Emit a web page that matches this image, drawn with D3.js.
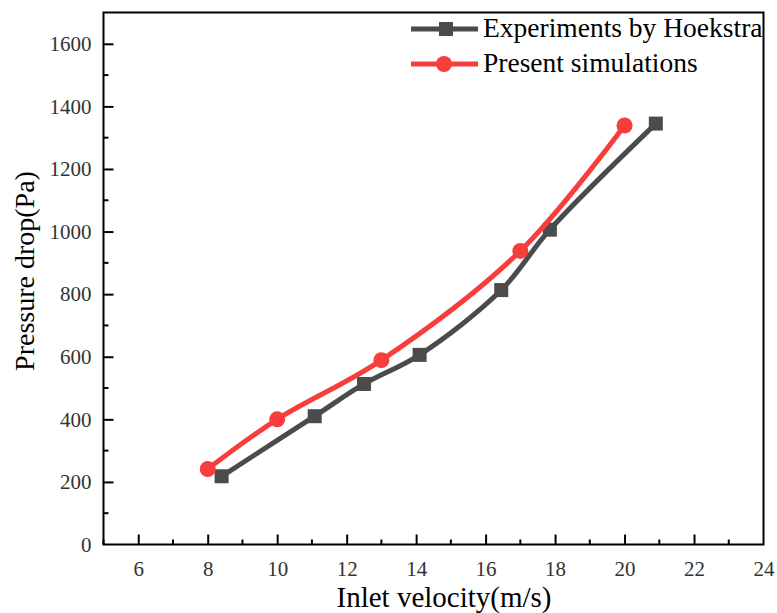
<!DOCTYPE html>
<html>
<head>
<meta charset="utf-8">
<script src="https://cdn.jsdelivr.net/npm/d3@7"></script>
<style>
  html, body { margin: 0; padding: 0; background: #fff; }
</style>
</head>
<body>
<svg id="chart" width="777" height="613"></svg>
<script>
// Inlet velocity (m/s) vs. pressure drop (Pa)
const expVelocity = [8.4, 11.08, 12.5, 14.1, 16.45, 17.85, 20.9];
const expPressure = [218, 410, 513, 606, 813, 1006, 1345];
const simVelocity = [8.0, 10.0, 13.0, 17.0, 20.0];
const simPressure = [241, 400, 589, 938, 1339];
const xTicks = [6, 8, 10, 12, 14, 16, 18, 20, 22, 24];
const yTicks = [0, 200, 400, 600, 800, 1000, 1200, 1400, 1600];
const seriesNames = ["Experiments by Hoekstra", "Present simulations"];

const svg = d3.select("#chart");
const plotLeft = 103.5, plotRight = 763.5, plotTop = 12.5, plotBottom = 544.5;

const x = d3.scaleLinear().domain([5, 24]).range([plotLeft, plotRight]);
const y = d3.scaleLinear().domain([0, 1700]).range([plotBottom, plotTop]);

const axisColor = "#000";
const labelColor = "#333";
const serif = "'Liberation Serif', 'Times New Roman', serif";

// frame: left, bottom, right, top
svg.append("rect")
  .attr("x", plotLeft).attr("y", plotTop)
  .attr("width", plotRight - plotLeft).attr("height", plotBottom - plotTop)
  .attr("fill", "none").attr("stroke", axisColor).attr("stroke-width", 2);

// x axis ticks (inward), major every 2, minor every 1
const xAxis = d3.axisBottom(x).tickValues(xTicks).tickFormat(d3.format("d"))
  .tickSizeInner(-10).tickSizeOuter(0).tickPadding(17);
const gx = svg.append("g").attr("transform", `translate(0,${plotBottom})`).call(xAxis);
gx.select(".domain").remove();
gx.selectAll(".tick line").attr("stroke", axisColor).attr("stroke-width", 2);
gx.selectAll(".tick text").attr("fill", labelColor)
  .style("font-family", serif).style("font-size", "21px");
gx.selectAll(".tick").filter(d => d === 24).select("line").remove();

const xMinor = d3.range(5, 24, 1).filter(v => v % 2 === 1);
svg.append("g").selectAll("line").data(xMinor).join("line")
  .attr("x1", d => x(d)).attr("x2", d => x(d))
  .attr("y1", plotBottom).attr("y2", plotBottom - 5)
  .attr("stroke", axisColor).attr("stroke-width", 2);

// y axis ticks (inward), major every 200, minor every 100
const yAxis = d3.axisLeft(y).tickValues(yTicks).tickFormat(d3.format("d"))
  .tickSizeInner(-10).tickSizeOuter(0).tickPadding(12);
const gy = svg.append("g").attr("transform", `translate(${plotLeft},0)`).call(yAxis);
gy.select(".domain").remove();
gy.selectAll(".tick line").attr("stroke", axisColor).attr("stroke-width", 2);
gy.selectAll(".tick").filter(d => d === 0).select("line").remove();
gy.selectAll(".tick text").attr("fill", labelColor)
  .style("font-family", serif).style("font-size", "21px");

const yMinor = d3.range(100, 1700, 200);
svg.append("g").selectAll("line").data(yMinor).join("line")
  .attr("x1", plotLeft).attr("x2", plotLeft + 5)
  .attr("y1", d => y(d)).attr("y2", d => y(d))
  .attr("stroke", axisColor).attr("stroke-width", 2);

// axis titles
svg.append("text")
  .attr("x", 444).attr("y", 607)
  .attr("text-anchor", "middle").attr("fill", "#000")
  .style("font-family", serif).style("font-size", "29px")
  .text("Inlet velocity(m/s)");
svg.append("text")
  .attr("transform", `translate(34,271) rotate(-90)`)
  .attr("text-anchor", "middle").attr("fill", "#000")
  .style("font-family", serif).style("font-size", "28px")
  .text("Pressure drop(Pa)");

// series
const gray = "#4b4b4b", red = "#f83d3d";
const line = d3.line().x(d => x(d[0])).y(d => y(d[1])).curve(d3.curveCatmullRom.alpha(0.5));

const expData = expVelocity.map((v, i) => [v, expPressure[i]]);
const simData = simVelocity.map((v, i) => [v, simPressure[i]]);

svg.append("path").datum(expData).attr("d", line)
  .attr("fill", "none").attr("stroke", gray).attr("stroke-width", 5);
svg.append("g").selectAll("rect").data(expData).join("rect")
  .attr("x", d => x(d[0]) - 7).attr("y", d => y(d[1]) - 7)
  .attr("width", 14).attr("height", 14).attr("fill", gray);

svg.append("path").datum(simData).attr("d", line)
  .attr("fill", "none").attr("stroke", red).attr("stroke-width", 5);
svg.append("g").selectAll("circle").data(simData).join("circle")
  .attr("cx", d => x(d[0])).attr("cy", d => y(d[1]))
  .attr("r", 8).attr("fill", red);

// legend
const legend = svg.append("g");
const legendRows = [
  { name: seriesNames[0], color: gray, shape: "square", cy: 29 },
  { name: seriesNames[1], color: red, shape: "circle", cy: 64 }
];
legendRows.forEach(r => {
  legend.append("line").attr("x1", 411).attr("x2", 478)
    .attr("y1", r.cy).attr("y2", r.cy)
    .attr("stroke", r.color).attr("stroke-width", 5);
  if (r.shape === "square") {
    legend.append("rect").attr("x", 446 - 7).attr("y", r.cy - 7)
      .attr("width", 14).attr("height", 14).attr("fill", r.color);
  } else {
    legend.append("circle").attr("cx", 444).attr("cy", r.cy).attr("r", 8).attr("fill", r.color);
  }
  legend.append("text").attr("x", 483).attr("y", r.cy + 8)
    .attr("fill", "#000")
    .style("font-family", serif).style("font-size", "27.5px")
    .text(r.name);
});
</script>
</body>
</html>
